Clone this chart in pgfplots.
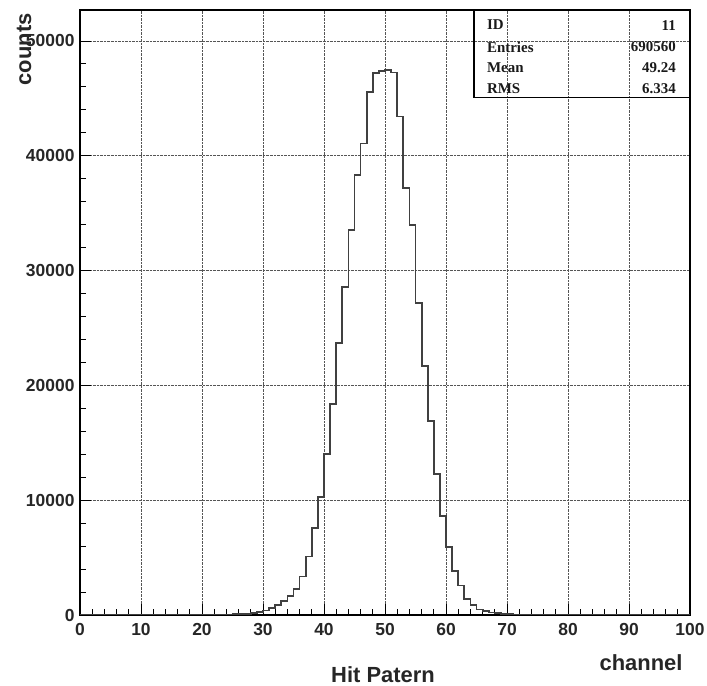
\documentclass[border=0pt]{standalone}
\usepackage{fontspec}
\setmainfont{Liberation Sans}
\newfontfamily\statfont{Liberation Serif}
\usepackage{pgfplots}
\pgfplotsset{compat=1.18}
\definecolor{histc}{HTML}{404040}
\definecolor{gridc}{HTML}{555555}
\begin{document}
\begin{tikzpicture}
\useasboundingbox (0,0) rectangle (707bp,686bp);
\begin{axis}[
  at={(80bp,71bp)}, anchor=south west,
  width=610bp, height=605bp, scale only axis,
  xmin=0, xmax=100, ymin=0, ymax=52700,
  xtick={0,10,...,100}, minor x tick num=4,
  ytick={0,10000,20000,30000,40000,50000}, minor y tick num=4,
  scaled y ticks=false,
  tick pos=left,
  tick align=inside,
  major tick length=11bp, minor tick length=6bp,
  every tick/.style={black, line width=0.9pt},
  grid=major,
  major grid style={densely dotted, gridc, line width=0.8pt},
  axis line style={black, line width=1.2pt},
  /pgf/number format/assume math mode=true,
  /pgf/number format/1000 sep={},
  tick label style={font=\fontsize{17.5}{17.5}\selectfont\bfseries, text=black!85},
  xticklabel style={yshift=-5bp},
  yticklabel style={xshift=-2bp},
]
\addplot[const plot, histc, line width=1.8pt] table {
x y
0 0
1 0
2 0
3 0
4 0
5 0
6 0
7 0
8 0
9 0
10 1
11 1
12 2
13 2
14 3
15 4
16 5
17 6
18 8
19 10
20 12
21 16
22 22
23 30
24 42
25 58
26 80
27 115
28 165
29 250
30 400
31 600
32 900
33 1220
34 1650
35 2250
36 3350
37 5100
38 7565
39 10300
40 14000
41 18360
42 23660
43 28600
44 33520
45 38310
46 41070
47 45570
48 47180
49 47400
50 47460
51 47260
52 43430
53 37190
54 34000
55 27200
56 21700
57 16900
58 12270
59 8640
60 5920
61 3800
62 2570
63 1400
64 900
65 470
66 340
67 220
68 140
69 90
70 60
71 40
72 28
73 20
74 14
75 10
76 7
77 5
78 4
79 3
80 2
81 2
82 1
83 1
84 1
85 1
86 0
87 0
88 0
89 0
90 0
91 0
92 0
93 0
94 0
95 0
96 0
97 0
98 0
99 0
100 0
};
\draw[black, line width=1.2pt] (rel axis cs:0.646,1) rectangle (rel axis cs:1,0.856);
\begin{scope}[every node/.style={font=\statfont\fontsize{15}{15}\selectfont\bfseries, text=black!90, inner sep=0pt}]
\node[anchor=west] at (rel axis cs:0.667,0.975) {ID};
\node[anchor=west] at (rel axis cs:0.667,0.939) {Entries};
\node[anchor=west] at (rel axis cs:0.667,0.904) {Mean};
\node[anchor=west] at (rel axis cs:0.667,0.870) {RMS};
\node[anchor=east] at (rel axis cs:0.977,0.975) {11};
\node[anchor=east] at (rel axis cs:0.977,0.939) {690560};
\node[anchor=east] at (rel axis cs:0.977,0.904) {49.24};
\node[anchor=east] at (rel axis cs:0.977,0.870) {6.334};
\end{scope}
\end{axis}
\node[rotate=90, anchor=east, font=\fontsize{22}{22}\selectfont\bfseries, text=black!85] at (24bp,676bp) {counts};
\node[anchor=base, font=\fontsize{22}{22}\selectfont\bfseries, text=black!85] at (383bp,4bp) {Hit Patern};
\node[anchor=base east, font=\fontsize{22}{22}\selectfont\bfseries, text=black!85] at (686bp,16bp) {channel};
\end{tikzpicture}
\end{document}
